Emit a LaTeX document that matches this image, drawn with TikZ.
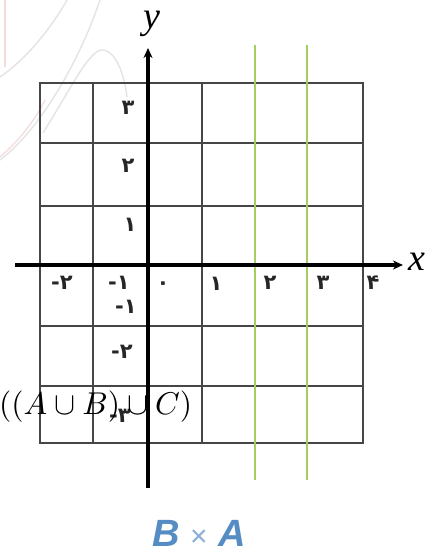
\documentclass[tikz,border=0pt]{standalone}
\usepackage{fontspec}
\usepackage{graphicx}
\usetikzlibrary{arrows.meta}
\newfontfamily\fadigits{DejaVu Sans}
\newfontfamily\axfont{Liberation Serif}
\newfontfamily\lblfont{Liberation Sans}
\definecolor{gridgray}{RGB}{70,70,70}
\definecolor{linegreen}{RGB}{165,205,95}
\definecolor{lblblue}{RGB}{85,140,195}
\definecolor{wmgray}{RGB}{228,228,228}
\definecolor{wmpink}{RGB}{245,218,218}
\tikzset{
  gridline/.style={draw=gridgray, line width=1.6pt},
  axisline/.style={draw=black, line width=3.6pt, -{Stealth[length=10pt,width=9pt]}},
  greenline/.style={draw=linegreen, line width=2.4pt},
  digit/.style={font=\fadigits\bfseries\fontsize{21}{24}\selectfont, text=black!85, inner sep=0pt},
  wm/.style={draw=wmgray, line width=1.4pt},
  wmp/.style={draw=wmpink, line width=1.2pt}
}
\begin{document}
\begin{tikzpicture}[x=1pt, y=-1pt]
\fill[white] (0,0) rectangle (435,556);
\useasboundingbox (0,0) rectangle (435,556);
% faint watermark arcs
\draw[wm] (0,77) .. controls (25,60) and (50,30) .. (67,0);
\draw[wm] (0,160) .. controls (40,130) and (80,60) .. (100,0);
\draw[wm] (43,133) .. controls (70,90) and (90,48) .. (103,50) .. controls (118,52) and (125,80) .. (127,97);
\draw[wmp] (5,0) -- (5,67);
\draw[wmp] (0,157) .. controls (20,140) and (35,120) .. (45,100);
% grid
\draw[gridline] (40,83) rectangle (363,443);
\foreach \yy in {143,206,326,386} \draw[gridline] (40,\yy) -- (363,\yy);
\foreach \xx in {93,202} \draw[gridline] (\xx,83) -- (\xx,443);
% green lines
\coordinate (g1t) at (255,45); \coordinate (g1b) at (255,480);
\coordinate (g2t) at (307,45); \coordinate (g2b) at (307,480);
\draw[greenline] (g1t) -- (g1b);
\draw[greenline] (g2t) -- (g2b);
% axes
\coordinate (xs) at (15,265); \coordinate (xe) at (403,265);
\coordinate (ys) at (148,488); \coordinate (ye) at (148,48);
\draw[axisline] (xs) -- (xe);
\draw[axisline] (ys) -- (ye);
\node[font=\axfont\itshape\fontsize{38}{40}\selectfont, inner sep=0pt] (ylab) at (152,24) {y};
\node[font=\axfont\itshape\fontsize{38}{40}\selectfont, inner sep=0pt] (xlab) at (417,262) {x};
% y labels
\node[digit] (y3) at (128,108) {۳};
\node[digit] (y2) at (128,166) {۲};
\node[digit] (y1) at (130,225) {۱};
\node[digit] (ym1) at (126,307) {-۱};
\node[digit] (ym2) at (122,352) {-۲};
\node[digit] (ym3) at (120,416) {-۳};
% x labels
\node[digit] (xm2) at (62,283) {-۲};
\node[digit] (xm1) at (119,283) {-۱};
\node[digit] (x0) at (163,286) {۰};
\node[digit] (x1) at (216,284) {۱};
\node[digit] (x2) at (270,283) {۲};
\node[digit] (x3) at (323,283) {۳};
\node[digit] (x4) at (373,283) {۴};
% formula
\node[anchor=base west, inner sep=0pt] (expr) at (-1,414) {\scalebox{3.15}{$((A\cup B)\cup C)$}};
% bottom label
\node[font=\lblfont\bfseries\itshape\fontsize{38}{40}\selectfont, text=lblblue, inner sep=0pt] (bxa) at (199,533) {B {\fontsize{30}{32}\selectfont\mdseries\upshape\color{lblblue!70}×} A};
\end{tikzpicture}
\end{document}
